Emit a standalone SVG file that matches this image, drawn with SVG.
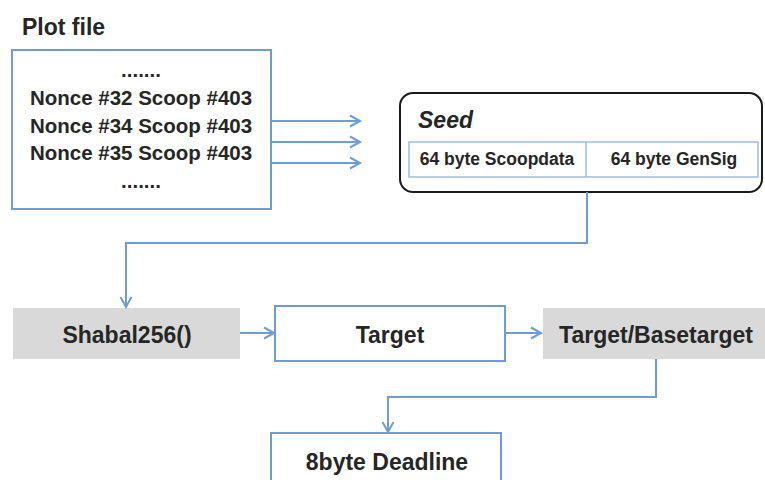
<svg xmlns="http://www.w3.org/2000/svg" width="765" height="480" viewBox="0 0 765 480">
<defs>
<marker id="arr" markerUnits="userSpaceOnUse" markerWidth="14" markerHeight="14" refX="11" refY="6" orient="auto" overflow="visible">
<path d="M1,0.5 L11,6 L1,11.5" fill="none" stroke="#6f9dd3" stroke-width="2"/>
</marker>
<style>
text{font-family:"Liberation Sans",Arial,sans-serif;font-weight:bold;fill:#262626;}
.blue{fill:#fff;stroke:#6f9dd3;stroke-width:2;}
.gray{fill:#d9d9d9;stroke:none;}
.c{fill:none;stroke:#6f9dd3;stroke-width:2;marker-end:url(#arr);}
.big{font-size:23px;text-anchor:middle;}
.mid{font-size:20.5px;text-anchor:middle;}
.sm{font-size:17.5px;text-anchor:middle;}
</style>
</defs>
<rect width="765" height="480" fill="#fff"/>
<g id="plotfile">
<text x="22" y="35" style="font-size:23px">Plot file</text>
<rect class="blue" x="12" y="50" width="259" height="159"/>
<text class="mid" x="141" y="77">.......</text>
<text class="mid" x="141" y="105">Nonce #32 Scoop #403</text>
<text class="mid" x="141" y="133">Nonce #34 Scoop #403</text>
<text class="mid" x="141" y="160">Nonce #35 Scoop #403</text>
<text class="mid" x="141" y="188">.......</text>
</g>
<g id="seed">
<rect x="400" y="93" width="362" height="99" rx="13" fill="#fff" stroke="#1a1a1a" stroke-width="2"/>
<text x="418" y="128" style="font-size:23px;font-style:italic">Seed</text>
<rect x="409" y="142" width="349" height="35" fill="#fff" stroke="#9dbde3" stroke-width="1.5"/>
<line x1="586" y1="142" x2="586" y2="177" stroke="#9dbde3" stroke-width="1.5"/>
<text class="sm" x="497" y="165">64 byte Scoopdata</text>
<text class="sm" x="674" y="165">64 byte GenSig</text>
</g>
<g id="shabal">
<rect class="gray" x="13" y="308" width="227" height="51"/>
<text class="big" x="127" y="343">Shabal256()</text>
</g>
<g id="target">
<rect class="blue" x="275" y="306" width="230" height="55"/>
<text class="big" x="390" y="343">Target</text>
</g>
<g id="basetarget">
<rect class="gray" x="543" y="308" width="222" height="51"/>
<text class="big" x="656" y="343">Target/Basetarget</text>
</g>
<g id="deadline">
<rect class="blue" x="271" y="433" width="230" height="60"/>
<text class="big" x="387" y="470">8byte Deadline</text>
</g>
<g id="connectors">
<path class="c" d="M272 121 H360"/>
<path class="c" d="M272 142 H360"/>
<path class="c" d="M272 163 H360"/>
<path class="c" d="M587 192 V243 H126 V307"/>
<path class="c" d="M240 333 H274"/>
<path class="c" d="M505 333 H541"/>
<path class="c" d="M656 359 V397 H388 V432"/>
</g>
</svg>
